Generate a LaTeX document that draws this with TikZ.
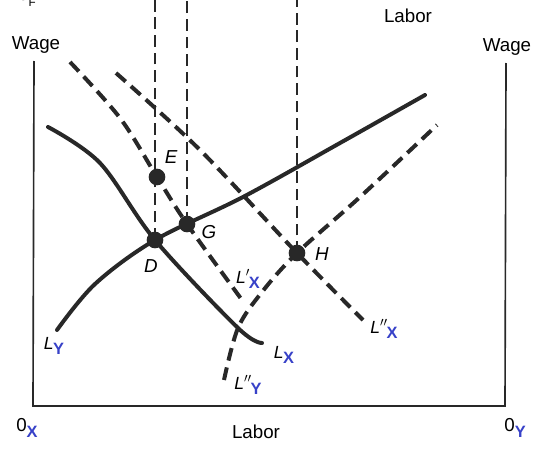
\documentclass[tikz,border=0pt]{standalone}
\usepackage{fontspec}
\setmainfont{Liberation Sans}
\definecolor{ink}{RGB}{40,40,40}
\definecolor{pen}{RGB}{55,65,200}
\newcommand{\curvelab}[2]{\textit{L}$^{#1}$\kern-1pt\raisebox{-0.55ex}{\textcolor{pen}{\bfseries\fontsize{14}{14}\selectfont #2}}}
\begin{document}
\begin{tikzpicture}[x=0.03cm, y=-0.03cm,
axis/.style={line width=1.4pt, color=ink},
solidcurve/.style={line width=3.4pt, line cap=round, color=ink},
dashcurve/.style={line width=3.4pt, color=ink, dash pattern=on 11pt off 6pt},
guide/.style={line width=1.5pt, color=ink, dash pattern=on 10pt off 5pt},
dot/.style={circle, fill=ink, inner sep=0pt, minimum size=0.5cm},
ptlab/.style={font=\fontsize{16}{18}\selectfont\itshape},
word/.style={font=\fontsize{16}{19}\selectfont},
curvetag/.style={font=\fontsize{15}{17}\selectfont, inner sep=1pt}
]
\useasboundingbox (0,0) rectangle (544,448);
\draw[axis] (34,61) -- (33,406) -- (505,406) -- (506,63);
\node[word] (wageL) at (36,45) {Wage};
\node[word] (wageR) at (507,47) {Wage};
\node[word] (laborT) at (408,16) {Labor};
\node[word] (laborB) at (256,432) {Labor};
\node[word] (origX) at (27,428) {0\raisebox{-0.6ex}{\textcolor{pen}{\bfseries\fontsize{14}{14}\selectfont X}}};
\node[word] (origY) at (515,428) {0\raisebox{-0.6ex}{\textcolor{pen}{\bfseries\fontsize{14}{14}\selectfont Y}}};
\node[word] (origT) at (27,-3) {0\raisebox{-0.6ex}{\fontsize{10}{10}\selectfont F}};
\draw[solidcurve] plot[smooth, tension=0.55] coordinates {(57,330) (95,284) (155,240) (243,197) (340,143) (425,95)};
\draw[solidcurve] plot[smooth, tension=0.55] coordinates {(48,127) (100,163) (155,240) (238,328) (262,343)};
\draw[dashcurve] plot[smooth, tension=0.55] coordinates {(70,62) (120,118) (157,177) (187,224) (242,300)};
\draw[dashcurve] plot[smooth, tension=0.55] coordinates {(116,73) (200,150) (297,253) (363,320)};
\draw[dashcurve] plot[smooth, tension=0.55] coordinates {(224,380) (238,328) (262,292) (297,253) (360,197) (437,125)};
\node[dot] (E) at (157,177) {};
\node[dot] (G) at (187,224) {};
\node[dot] (D) at (155,240) {};
\node[dot] (H) at (297,253) {};
\coordinate (top) at (0,0);
\draw[guide] (D.center) -- (D |- top);
\draw[guide] (G.center) -- (G |- top);
\draw[guide] (H.center) -- (H |- top);
\node[ptlab] (labE) at (171,157) {E};
\node[ptlab] (labG) at (209,232) {G};
\node[ptlab] (labD) at (151,266) {D};
\node[ptlab] (labH) at (322,254) {H};
\node[curvetag] (LxA) at (248,279) {\curvelab{\prime}{X}};
\node[curvetag] (LxB) at (384,329) {\curvelab{\prime\prime}{X}};
\node[curvetag] (LxC) at (284,355) {\curvelab{}{X}};
\node[curvetag] (LyB) at (248,385) {\curvelab{\prime\prime}{Y}};
\node[curvetag] (LyA) at (54,346) {\curvelab{}{Y}};
\end{tikzpicture}
\end{document}
